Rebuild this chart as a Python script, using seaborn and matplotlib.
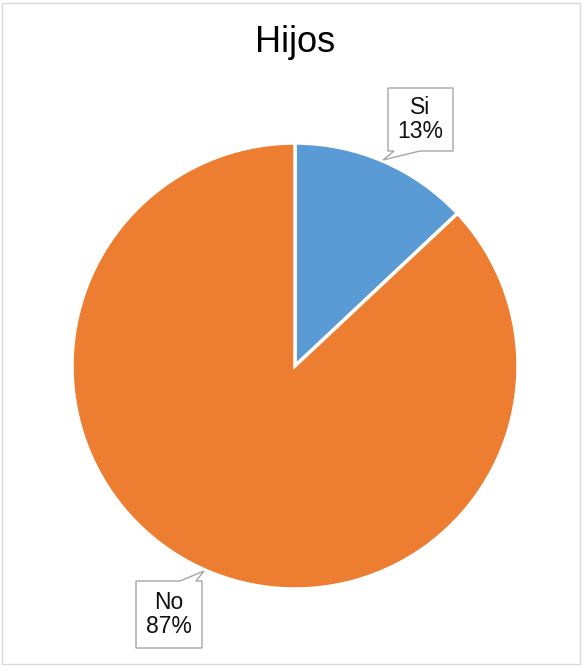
import matplotlib
matplotlib.use("Agg")
import matplotlib.pyplot as plt
import seaborn as sns
from matplotlib.patches import Rectangle, Polygon

labels = ["Si", "No"]
values = [13, 87]
colors = ["#5B9BD5", "#ED7D31"]
title = "Hijos"

sns.set_theme(style="white")
plt.rcParams["font.family"] = ["Liberation Sans", "DejaVu Sans"]

W, H = 583, 666
fig = plt.figure(figsize=(W / 100, H / 100), dpi=100)
fig.patch.set_facecolor("white")

cx, cy, r = 295, 366, 223
ax = fig.add_axes([(cx - r) / W, (H - cy - r) / H, 2 * r / W, 2 * r / H])
wedges, _ = ax.pie(values, colors=colors, startangle=90, counterclock=False,
                   radius=1.0, wedgeprops=dict(edgecolor="white", linewidth=2.5))
ax.set_xlim(-1, 1)
ax.set_ylim(-1, 1)
ax.set_aspect("equal")
ax.axis("off")


def d(px, py):
    return ((px - cx) / r, (cy - py) / r)


# callout shapes (pixel layout -> data coords)
callouts = [
    dict(center=(420.5, 119.5),
         shape=[(388, 88), (453, 88), (453, 151), (420, 151), (383, 160), (394, 151), (388, 151)]),
    dict(center=(169, 614.5),
         shape=[(136, 581), (180, 581), (204, 571), (196, 581), (202, 581), (202, 648), (136, 648)]),
]

total = sum(values)
for lab, v, c in zip(labels, values, callouts):
    poly = Polygon([d(*p) for p in c["shape"]], closed=True, fc="white",
                   ec="#a6a6a6", lw=1, clip_on=False, zorder=5)
    ax.add_patch(poly)
    tx, ty = d(*c["center"])
    ax.text(tx, ty, f"{lab}\n{round(100 * v / total)}%", ha="center", va="center",
            fontsize=16.5, color="#111111", linespacing=1.05, zorder=6, clip_on=False)

fig.text(cx / W, 1 - 43 / H, title, ha="center", va="center", fontsize=26, color="black")

fig.patches.append(Rectangle((2 / W, 2 / H), (W - 5) / W, (H - 5) / H,
                             transform=fig.transFigure, fill=False,
                             ec="#d9d9d9", lw=1))

fig.savefig("out.png", dpi=100)
